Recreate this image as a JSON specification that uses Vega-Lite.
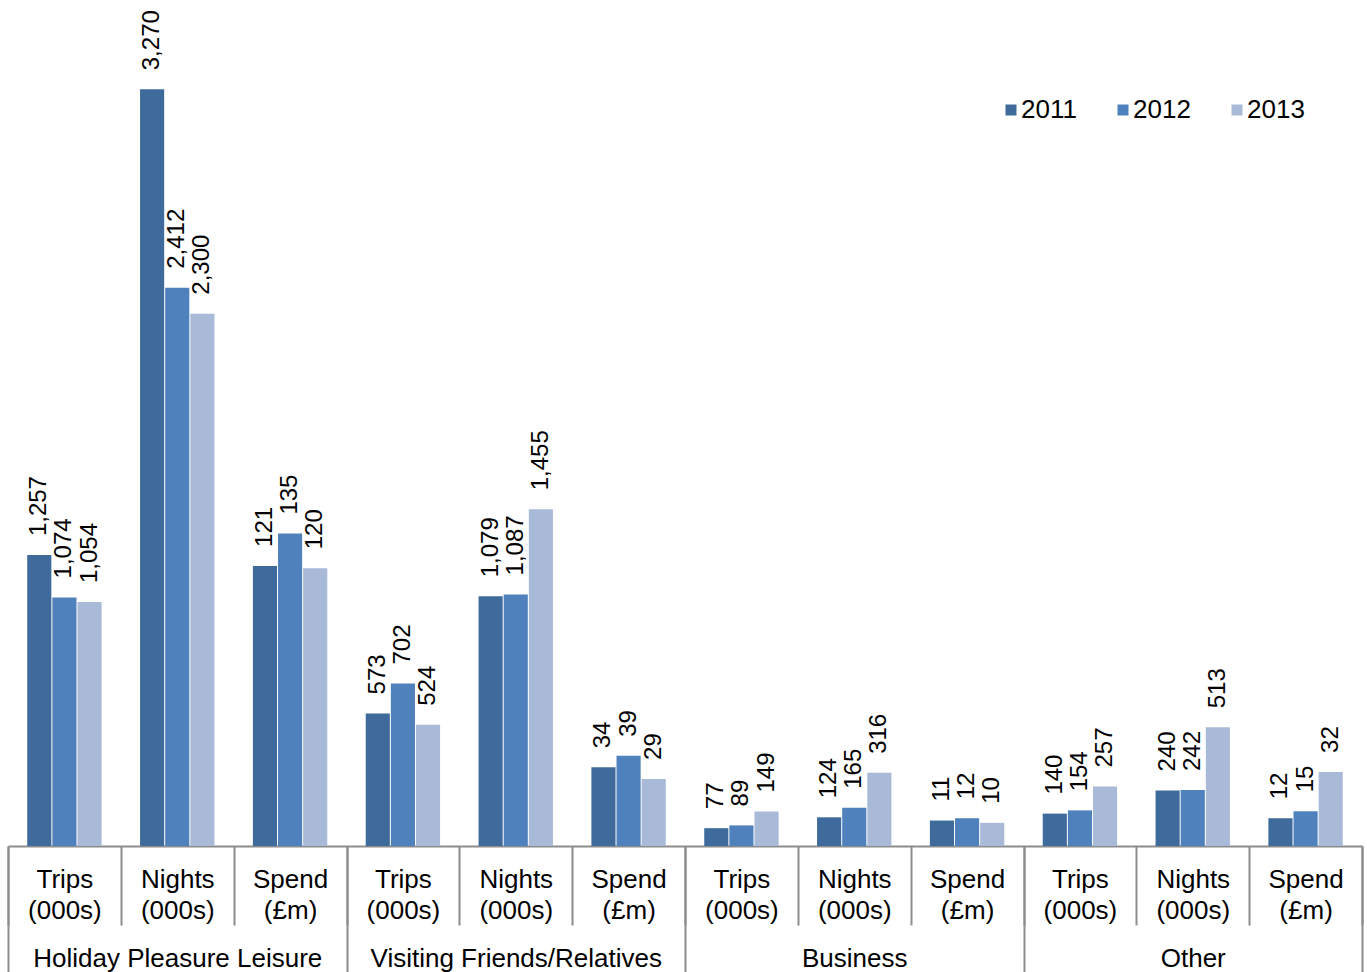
{
  "$schema": "https://vega.github.io/schema/vega-lite/v6.json",
  "width": 1354,
  "height": 810,
  "autosize": {"type": "none"},
  "padding": {"left": 8, "top": 36, "right": 5, "bottom": 126},
  "background": "white",
  "config": {"view": {"stroke": null}, "font": "Liberation Sans"},
  "data": {
    "values": [
      {"purpose": "Holiday Pleasure Leisure", "measure": "Trips (000s)", "group": "HPL|Trips (000s)", "year": "2011", "value": 1257},
      {"purpose": "Holiday Pleasure Leisure", "measure": "Trips (000s)", "group": "HPL|Trips (000s)", "year": "2012", "value": 1074},
      {"purpose": "Holiday Pleasure Leisure", "measure": "Trips (000s)", "group": "HPL|Trips (000s)", "year": "2013", "value": 1054},
      {"purpose": "Holiday Pleasure Leisure", "measure": "Nights (000s)", "group": "HPL|Nights (000s)", "year": "2011", "value": 3270},
      {"purpose": "Holiday Pleasure Leisure", "measure": "Nights (000s)", "group": "HPL|Nights (000s)", "year": "2012", "value": 2412},
      {"purpose": "Holiday Pleasure Leisure", "measure": "Nights (000s)", "group": "HPL|Nights (000s)", "year": "2013", "value": 2300},
      {"purpose": "Holiday Pleasure Leisure", "measure": "Spend (£m)", "group": "HPL|Spend (£m)", "year": "2011", "value": 121},
      {"purpose": "Holiday Pleasure Leisure", "measure": "Spend (£m)", "group": "HPL|Spend (£m)", "year": "2012", "value": 135},
      {"purpose": "Holiday Pleasure Leisure", "measure": "Spend (£m)", "group": "HPL|Spend (£m)", "year": "2013", "value": 120},
      {"purpose": "Visiting Friends/Relatives", "measure": "Trips (000s)", "group": "VFR|Trips (000s)", "year": "2011", "value": 573},
      {"purpose": "Visiting Friends/Relatives", "measure": "Trips (000s)", "group": "VFR|Trips (000s)", "year": "2012", "value": 702},
      {"purpose": "Visiting Friends/Relatives", "measure": "Trips (000s)", "group": "VFR|Trips (000s)", "year": "2013", "value": 524},
      {"purpose": "Visiting Friends/Relatives", "measure": "Nights (000s)", "group": "VFR|Nights (000s)", "year": "2011", "value": 1079},
      {"purpose": "Visiting Friends/Relatives", "measure": "Nights (000s)", "group": "VFR|Nights (000s)", "year": "2012", "value": 1087},
      {"purpose": "Visiting Friends/Relatives", "measure": "Nights (000s)", "group": "VFR|Nights (000s)", "year": "2013", "value": 1455},
      {"purpose": "Visiting Friends/Relatives", "measure": "Spend (£m)", "group": "VFR|Spend (£m)", "year": "2011", "value": 34},
      {"purpose": "Visiting Friends/Relatives", "measure": "Spend (£m)", "group": "VFR|Spend (£m)", "year": "2012", "value": 39},
      {"purpose": "Visiting Friends/Relatives", "measure": "Spend (£m)", "group": "VFR|Spend (£m)", "year": "2013", "value": 29},
      {"purpose": "Business", "measure": "Trips (000s)", "group": "BUS|Trips (000s)", "year": "2011", "value": 77},
      {"purpose": "Business", "measure": "Trips (000s)", "group": "BUS|Trips (000s)", "year": "2012", "value": 89},
      {"purpose": "Business", "measure": "Trips (000s)", "group": "BUS|Trips (000s)", "year": "2013", "value": 149},
      {"purpose": "Business", "measure": "Nights (000s)", "group": "BUS|Nights (000s)", "year": "2011", "value": 124},
      {"purpose": "Business", "measure": "Nights (000s)", "group": "BUS|Nights (000s)", "year": "2012", "value": 165},
      {"purpose": "Business", "measure": "Nights (000s)", "group": "BUS|Nights (000s)", "year": "2013", "value": 316},
      {"purpose": "Business", "measure": "Spend (£m)", "group": "BUS|Spend (£m)", "year": "2011", "value": 11},
      {"purpose": "Business", "measure": "Spend (£m)", "group": "BUS|Spend (£m)", "year": "2012", "value": 12},
      {"purpose": "Business", "measure": "Spend (£m)", "group": "BUS|Spend (£m)", "year": "2013", "value": 10},
      {"purpose": "Other", "measure": "Trips (000s)", "group": "OTH|Trips (000s)", "year": "2011", "value": 140},
      {"purpose": "Other", "measure": "Trips (000s)", "group": "OTH|Trips (000s)", "year": "2012", "value": 154},
      {"purpose": "Other", "measure": "Trips (000s)", "group": "OTH|Trips (000s)", "year": "2013", "value": 257},
      {"purpose": "Other", "measure": "Nights (000s)", "group": "OTH|Nights (000s)", "year": "2011", "value": 240},
      {"purpose": "Other", "measure": "Nights (000s)", "group": "OTH|Nights (000s)", "year": "2012", "value": 242},
      {"purpose": "Other", "measure": "Nights (000s)", "group": "OTH|Nights (000s)", "year": "2013", "value": 513},
      {"purpose": "Other", "measure": "Spend (£m)", "group": "OTH|Spend (£m)", "year": "2011", "value": 12},
      {"purpose": "Other", "measure": "Spend (£m)", "group": "OTH|Spend (£m)", "year": "2012", "value": 15},
      {"purpose": "Other", "measure": "Spend (£m)", "group": "OTH|Spend (£m)", "year": "2013", "value": 32}
    ]
  },
  "layer": [
    {
      "encoding": {
        "x": {
          "field": "group",
          "type": "nominal",
          "scale": {
            "domain": [
              "HPL|Trips (000s)", "HPL|Nights (000s)", "HPL|Spend (£m)",
              "VFR|Trips (000s)", "VFR|Nights (000s)", "VFR|Spend (£m)",
              "BUS|Trips (000s)", "BUS|Nights (000s)", "BUS|Spend (£m)",
              "OTH|Trips (000s)", "OTH|Nights (000s)", "OTH|Spend (£m)"
            ],
            "paddingInner": 0,
            "paddingOuter": 0
          },
          "axis": {
            "orient": "bottom",
            "title": null,
            "labelAngle": 0,
            "labelFontSize": 26,
            "labelColor": "#000000",
            "labelExpr": "datum.label ? split(split(datum.label, '|')[1], ' ') : ''",
            "labelLineHeight": 31,
            "labelPadding": -59,
            "labelOverlap": false,
            "labelBound": false,
            "labelFlush": false,
            "labelLimit": 0,
            "tickBand": "extent",
            "tickSize": 79,
            "tickColor": "#8c8c8c",
            "tickWidth": 2,
            "domainColor": "#8c8c8c",
            "domainWidth": 2,
            "grid": false
          }
        },
        "xOffset": {
          "field": "year",
          "type": "nominal",
          "scale": {"paddingInner": 0.04, "paddingOuter": 0.765}
        }
      },
      "layer": [
        {
          "transform": [{"filter": "datum.measure !== 'Spend (£m)'"}],
          "encoding": {
            "y": {
              "field": "value",
              "type": "quantitative",
              "scale": {"domain": [0, 3500], "nice": false},
              "axis": null
            }
          },
          "layer": [
            {
              "mark": {"type": "bar"},
              "encoding": {
                "color": {
                  "field": "year",
                  "type": "nominal",
                  "scale": {"domain": ["2011", "2012", "2013"], "range": ["#3F6A9C", "#4F81BD", "#A9BAD8"]},
                  "legend": {
                    "orient": "none",
                    "legendX": 990,
                    "legendY": 61,
                    "direction": "horizontal",
                    "title": null,
                    "labelFontSize": 26,
                    "labelColor": "#000000",
                    "symbolType": "square",
                    "symbolSize": 121,
                    "symbolStrokeWidth": 0,
                    "labelOffset": -3,
                    "columnPadding": 33,
                    "padding": 0
                  }
                }
              }
            },
            {
              "mark": {"type": "text", "angle": 270, "align": "left", "baseline": "middle", "dx": 19, "fontSize": 24, "color": "#000000"},
              "encoding": {"text": {"field": "value", "type": "quantitative", "format": ","}}
            }
          ]
        },
        {
          "transform": [{"filter": "datum.measure === 'Spend (£m)'"}],
          "encoding": {
            "y": {
              "field": "value",
              "type": "quantitative",
              "scale": {"domain": [0, 350], "nice": false},
              "axis": null
            }
          },
          "layer": [
            {
              "mark": {"type": "bar"},
              "encoding": {
                "color": {
                  "field": "year",
                  "type": "nominal",
                  "scale": {"domain": ["2011", "2012", "2013"], "range": ["#3F6A9C", "#4F81BD", "#A9BAD8"]}
                }
              }
            },
            {
              "mark": {"type": "text", "angle": 270, "align": "left", "baseline": "middle", "dx": 19, "fontSize": 24, "color": "#000000"},
              "encoding": {"text": {"field": "value", "type": "quantitative", "format": ","}}
            }
          ]
        }
      ],
      "resolve": {"scale": {"y": "independent"}}
    },
    {
      "mark": {"type": "rule", "opacity": 0},
      "encoding": {
        "x": {
          "field": "purpose",
          "type": "nominal",
          "scale": {
            "type": "band",
            "domain": ["Holiday Pleasure Leisure", "Visiting Friends/Relatives", "Business", "Other"],
            "paddingInner": 0,
            "paddingOuter": 0
          },
          "axis": {
            "orient": "bottom",
            "title": null,
            "domain": false,
            "labelAngle": 0,
            "labelFontSize": 26,
            "labelColor": "#000000",
            "labelPadding": -27,
            "labelOverlap": false,
            "labelBound": false,
            "labelFlush": false,
            "labelLimit": 0,
            "tickBand": "extent",
            "tickSize": 126,
            "tickColor": "#8c8c8c",
            "tickWidth": 2,
            "grid": false
          }
        }
      }
    }
  ],
  "resolve": {"scale": {"x": "independent"}, "axis": {"x": "independent"}}
}
